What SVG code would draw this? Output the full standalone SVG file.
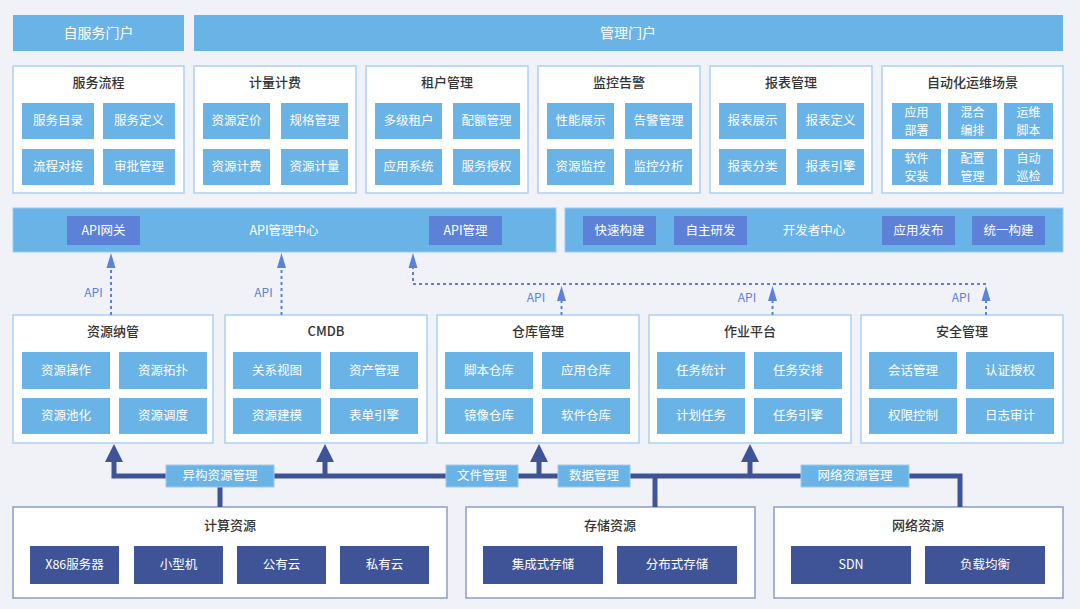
<svg xmlns="http://www.w3.org/2000/svg" width="1080" height="609" viewBox="0 0 1080 609">
<defs>
<style>
text{font-family:"Noto Sans CJK SC","Noto Sans",sans-serif;text-anchor:middle;dominant-baseline:central;transform:translateY(-1.5px)}
.hdr{fill:#6ab3e6}
.cont{fill:#fff;stroke:#a9d1f2;stroke-width:1.5}
.bcont{fill:#fff;stroke:#8e9cca;stroke-width:1.5}
.box{fill:#6ab3e6}
.dbox{fill:#5b82d6}
.nbox{fill:#3f5497}
.t{font-size:13px;fill:#333;font-weight:500}
.w{font-size:12.5px;fill:#fff}
.w2{font-size:12px;fill:#fff}
.hw{font-size:14px;fill:#fff}
.api{font-size:12px;fill:#5b82d6}
.dash{fill:none;stroke:#5b82d6;stroke-width:2;stroke-dasharray:3 3}
.bus{fill:none;stroke:#3f5497;stroke-width:5}
.ah{fill:#5b82d6}
.bh{fill:#3f5497}
.lbl{fill:#6ab3e6;stroke:#9ccbef;stroke-width:1}
</style>
</defs>
<rect width="1080" height="609" fill="#f1f2f8"/>

<g id="self-portal"><rect class="hdr" x="13" y="15" width="171" height="36"/><text class="hw" x="98.5" y="33">自服务门户</text></g>
<g id="mgmt-portal"><rect class="hdr" x="194" y="15" width="869" height="36"/><text class="hw" x="628" y="33">管理门户</text></g>

<g id="service-flow"><rect class="cont" x="13" y="66" width="171" height="127"/><text class="t" x="98.5" y="83">服务流程</text>
<rect class="box" x="22" y="103" width="72" height="36"/><text class="w" x="58" y="121">服务目录</text>
<rect class="box" x="103" y="103" width="72" height="36"/><text class="w" x="139" y="121">服务定义</text>
<rect class="box" x="22" y="149" width="72" height="36"/><text class="w" x="58" y="167">流程对接</text>
<rect class="box" x="103" y="149" width="72" height="36"/><text class="w" x="139" y="167">审批管理</text></g>

<g id="metering"><rect class="cont" x="194" y="66" width="162" height="127"/><text class="t" x="275" y="83">计量计费</text>
<rect class="box" x="203" y="103" width="67" height="36"/><text class="w" x="236.5" y="121">资源定价</text>
<rect class="box" x="281" y="103" width="67" height="36"/><text class="w" x="314.5" y="121">规格管理</text>
<rect class="box" x="203" y="149" width="67" height="36"/><text class="w" x="236.5" y="167">资源计费</text>
<rect class="box" x="281" y="149" width="67" height="36"/><text class="w" x="314.5" y="167">资源计量</text></g>

<g id="tenant"><rect class="cont" x="366" y="66" width="162" height="127"/><text class="t" x="447" y="83">租户管理</text>
<rect class="box" x="375" y="103" width="67" height="36"/><text class="w" x="408.5" y="121">多级租户</text>
<rect class="box" x="453" y="103" width="67" height="36"/><text class="w" x="486.5" y="121">配额管理</text>
<rect class="box" x="375" y="149" width="67" height="36"/><text class="w" x="408.5" y="167">应用系统</text>
<rect class="box" x="453" y="149" width="67" height="36"/><text class="w" x="486.5" y="167">服务授权</text></g>

<g id="monitor"><rect class="cont" x="538" y="66" width="162" height="127"/><text class="t" x="619" y="83">监控告警</text>
<rect class="box" x="547" y="103" width="67" height="36"/><text class="w" x="580.5" y="121">性能展示</text>
<rect class="box" x="625" y="103" width="67" height="36"/><text class="w" x="658.5" y="121">告警管理</text>
<rect class="box" x="547" y="149" width="67" height="36"/><text class="w" x="580.5" y="167">资源监控</text>
<rect class="box" x="625" y="149" width="67" height="36"/><text class="w" x="658.5" y="167">监控分析</text></g>

<g id="report"><rect class="cont" x="710" y="66" width="162" height="127"/><text class="t" x="791" y="83">报表管理</text>
<rect class="box" x="719" y="103" width="67" height="36"/><text class="w" x="752.5" y="121">报表展示</text>
<rect class="box" x="797" y="103" width="67" height="36"/><text class="w" x="830.5" y="121">报表定义</text>
<rect class="box" x="719" y="149" width="67" height="36"/><text class="w" x="752.5" y="167">报表分类</text>
<rect class="box" x="797" y="149" width="67" height="36"/><text class="w" x="830.5" y="167">报表引擎</text></g>

<g id="auto-ops"><rect class="cont" x="882" y="66" width="181" height="127"/><text class="t" x="972.5" y="83">自动化运维场景</text>
<rect class="box" x="892" y="103" width="49" height="36"/><text class="w2"><tspan x="916.5" y="112.5">应用</tspan><tspan x="916.5" y="130.5">部署</tspan></text>
<rect class="box" x="948" y="103" width="49" height="36"/><text class="w2"><tspan x="972.5" y="112.5">混合</tspan><tspan x="972.5" y="130.5">编排</tspan></text>
<rect class="box" x="1004" y="103" width="49" height="36"/><text class="w2"><tspan x="1028.5" y="112.5">运维</tspan><tspan x="1028.5" y="130.5">脚本</tspan></text>
<rect class="box" x="892" y="149" width="49" height="36"/><text class="w2"><tspan x="916.5" y="158.5">软件</tspan><tspan x="916.5" y="176.5">安装</tspan></text>
<rect class="box" x="948" y="149" width="49" height="36"/><text class="w2"><tspan x="972.5" y="158.5">配置</tspan><tspan x="972.5" y="176.5">管理</tspan></text>
<rect class="box" x="1004" y="149" width="49" height="36"/><text class="w2"><tspan x="1028.5" y="158.5">自动</tspan><tspan x="1028.5" y="176.5">巡检</tspan></text></g>

<g id="api-center"><rect class="hdr" x="13" y="208" width="543" height="44" stroke="#9ccbef" stroke-width="1"/>
<rect class="dbox" x="67" y="216" width="73" height="29"/><text class="w" x="103.5" y="230.5">API网关</text>
<text class="w" x="284" y="230.5">API管理中心</text>
<rect class="dbox" x="429" y="216" width="73" height="29"/><text class="w" x="465.5" y="230.5">API管理</text></g>

<g id="dev-center"><rect class="hdr" x="565" y="208" width="498" height="44" stroke="#9ccbef" stroke-width="1"/>
<rect class="dbox" x="583" y="216" width="73" height="29"/><text class="w" x="619.5" y="230.5">快速构建</text>
<rect class="dbox" x="674" y="216" width="73" height="29"/><text class="w" x="710.5" y="230.5">自主研发</text>
<text class="w" x="814" y="230.5">开发者中心</text>
<rect class="dbox" x="882" y="216" width="73" height="29"/><text class="w" x="918.5" y="230.5">应用发布</text>
<rect class="dbox" x="972" y="216" width="73" height="29"/><text class="w" x="1008.5" y="230.5">统一构建</text></g>

<g id="res-mgmt"><rect class="cont" x="13" y="315" width="200" height="128"/><text class="t" x="113" y="332">资源纳管</text>
<rect class="box" x="22" y="352" width="88" height="37"/><text class="w" x="66" y="370.5">资源操作</text>
<rect class="box" x="119" y="352" width="88" height="37"/><text class="w" x="163" y="370.5">资源拓扑</text>
<rect class="box" x="22" y="398" width="88" height="36"/><text class="w" x="66" y="416">资源池化</text>
<rect class="box" x="119" y="398" width="88" height="36"/><text class="w" x="163" y="416">资源调度</text></g>

<g id="cmdb"><rect class="cont" x="225" y="315" width="202" height="128"/><text class="t" x="326" y="332">CMDB</text>
<rect class="box" x="233" y="352" width="88" height="37"/><text class="w" x="277" y="370.5">关系视图</text>
<rect class="box" x="330" y="352" width="88" height="37"/><text class="w" x="374" y="370.5">资产管理</text>
<rect class="box" x="233" y="398" width="88" height="36"/><text class="w" x="277" y="416">资源建模</text>
<rect class="box" x="330" y="398" width="88" height="36"/><text class="w" x="374" y="416">表单引擎</text></g>

<g id="repo"><rect class="cont" x="437" y="315" width="202" height="128"/><text class="t" x="538" y="332">仓库管理</text>
<rect class="box" x="445" y="352" width="88" height="37"/><text class="w" x="489" y="370.5">脚本仓库</text>
<rect class="box" x="542" y="352" width="88" height="37"/><text class="w" x="586" y="370.5">应用仓库</text>
<rect class="box" x="445" y="398" width="88" height="36"/><text class="w" x="489" y="416">镜像仓库</text>
<rect class="box" x="542" y="398" width="88" height="36"/><text class="w" x="586" y="416">软件仓库</text></g>

<g id="job"><rect class="cont" x="649" y="315" width="202" height="128"/><text class="t" x="750" y="332">作业平台</text>
<rect class="box" x="657" y="352" width="88" height="37"/><text class="w" x="701" y="370.5">任务统计</text>
<rect class="box" x="754" y="352" width="88" height="37"/><text class="w" x="798" y="370.5">任务安排</text>
<rect class="box" x="657" y="398" width="88" height="36"/><text class="w" x="701" y="416">计划任务</text>
<rect class="box" x="754" y="398" width="88" height="36"/><text class="w" x="798" y="416">任务引擎</text></g>

<g id="security"><rect class="cont" x="861" y="315" width="202" height="128"/><text class="t" x="962" y="332">安全管理</text>
<rect class="box" x="869" y="352" width="88" height="37"/><text class="w" x="913" y="370.5">会话管理</text>
<rect class="box" x="966" y="352" width="88" height="37"/><text class="w" x="1010" y="370.5">认证授权</text>
<rect class="box" x="869" y="398" width="88" height="36"/><text class="w" x="913" y="416">权限控制</text>
<rect class="box" x="966" y="398" width="88" height="36"/><text class="w" x="1010" y="416">日志审计</text></g>

<g id="compute"><rect class="bcont" x="13" y="507" width="434" height="91"/><text class="t" x="230" y="526">计算资源</text>
<rect class="nbox" x="30" y="546" width="89" height="38"/><text class="w" x="74.5" y="565">X86服务器</text>
<rect class="nbox" x="134" y="546" width="89" height="38"/><text class="w" x="178.5" y="565">小型机</text>
<rect class="nbox" x="237" y="546" width="89" height="38"/><text class="w" x="281.5" y="565">公有云</text>
<rect class="nbox" x="340" y="546" width="89" height="38"/><text class="w" x="384.5" y="565">私有云</text></g>

<g id="storage"><rect class="bcont" x="466" y="507" width="289" height="91"/><text class="t" x="610" y="526">存储资源</text>
<rect class="nbox" x="483" y="546" width="120" height="38"/><text class="w" x="543" y="565">集成式存储</text>
<rect class="nbox" x="617" y="546" width="120" height="38"/><text class="w" x="677" y="565">分布式存储</text></g>

<g id="network"><rect class="bcont" x="774" y="507" width="289" height="91"/><text class="t" x="918" y="526">网络资源</text>
<rect class="nbox" x="791" y="546" width="120" height="38"/><text class="w" x="851" y="565">SDN</text>
<rect class="nbox" x="925" y="546" width="120" height="38"/><text class="w" x="985" y="565">负载均衡</text></g>

<g id="connectors">
<path class="dash" d="M111 315V268"/><polygon class="ah" points="111,253 106.5,268 115.5,268"/>
<path class="dash" d="M281.5 315V268"/><polygon class="ah" points="281.5,253 277,268 286,268"/>
<path class="dash" d="M986 284H413V268"/><polygon class="ah" points="413,253 408.5,268 417.5,268"/>
<path class="dash" d="M561.5 315V301"/><polygon class="ah" points="561.5,286 557,301 566,301"/>
<path class="dash" d="M772.5 315V301"/><polygon class="ah" points="772.5,286 768,301 777,301"/>
<path class="dash" d="M986 315V301"/><polygon class="ah" points="986,286 981.5,301 990.5,301"/>
<text class="api" x="93.5" y="293">API</text>
<text class="api" x="263.5" y="293">API</text>
<text class="api" x="536" y="298">API</text>
<text class="api" x="747" y="298">API</text>
<text class="api" x="961" y="298">API</text>

<path class="bus" d="M114 461V476H960V507"/>
<path class="bus" d="M325 461V476M539 461V476M750 461V476M220 476V507M655 476V507"/>
<polygon class="bh" points="114,444 105,462 123,462"/>
<polygon class="bh" points="325,444 316,462 334,462"/>
<polygon class="bh" points="539,444 530,462 548,462"/>
<polygon class="bh" points="750,444 741,462 759,462"/>
<rect class="lbl" x="166" y="465" width="108" height="22"/><text class="w" x="220" y="476">异构资源管理</text>
<rect class="lbl" x="446" y="465" width="72" height="22"/><text class="w" x="482" y="476">文件管理</text>
<rect class="lbl" x="558" y="465" width="72" height="22"/><text class="w" x="594" y="476">数据管理</text>
<rect class="lbl" x="801" y="465" width="108" height="22"/><text class="w" x="855" y="476">网络资源管理</text>
</g>
</svg>
